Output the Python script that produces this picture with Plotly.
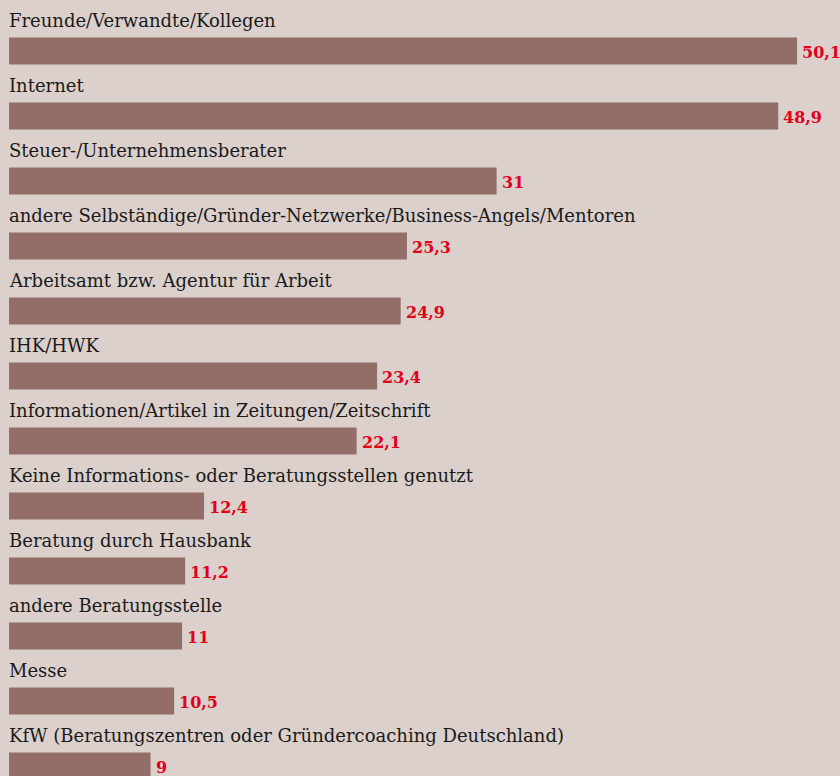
import plotly.graph_objects as go

categories = [
    "Freunde/Verwandte/Kollegen",
    "Internet",
    "Steuer-/Unternehmensberater",
    "andere Selbständige/Gründer-Netzwerke/Business-Angels/Mentoren",
    "Arbeitsamt bzw. Agentur für Arbeit",
    "IHK/HWK",
    "Informationen/Artikel in Zeitungen/Zeitschrift",
    "Keine Informations- oder Beratungsstellen genutzt",
    "Beratung durch Hausbank",
    "andere Beratungsstelle",
    "Messe",
    "KfW (Beratungszentren oder Gründercoaching Deutschland)",
]
values = [50.1, 48.9, 31, 25.3, 24.9, 23.4, 22.1, 12.4, 11.2, 11, 10.5, 9]
value_labels = ["50,1", "48,9", "31", "25,3", "24,9", "23,4", "22,1", "12,4", "11,2", "11", "10,5", "9"]

BG = "#dbd0cc"
BAR = "#936e69"
RED = "#e2001a"
FONT = "DejaVu Serif"

ypos = list(range(len(categories)))

fig = go.Figure()
fig.add_trace(go.Bar(
    x=values, y=ypos, orientation="h",
    marker=dict(color=BAR, line=dict(width=0)),
    width=0.415, hoverinfo="skip",
))

annotations = []
for i, (c, v, lab) in enumerate(zip(categories, values, value_labels)):
    annotations.append(dict(
        x=0, y=i - 0.477, xref="x", yref="y", text=c, showarrow=False,
        xanchor="left", yanchor="middle", xshift=-2,
        font=dict(family=FONT, size=18, color="#1a1a1a"),
    ))
    annotations.append(dict(
        x=v, y=i + 0.02, xref="x", yref="y", text="<b>" + lab + "</b>", showarrow=False,
        xanchor="left", yanchor="middle", xshift=3,
        font=dict(family=FONT, size=16, color=RED),
    ))

fig.update_layout(
    width=840, height=776,
    margin=dict(l=9, r=0, t=0, b=0),
    paper_bgcolor=BG, plot_bgcolor=BG,
    showlegend=False,
    xaxis=dict(range=[0, 831 / 15.73], visible=False, fixedrange=True),
    yaxis=dict(range=[(776 - 51) / 65, -51 / 65], visible=False, fixedrange=True),
    annotations=annotations,
)

fig.write_html(
    "out.html",
    config={"displayModeBar": False},
    post_script="document.body.style.margin='0px';document.body.style.overflow='hidden';",
)
